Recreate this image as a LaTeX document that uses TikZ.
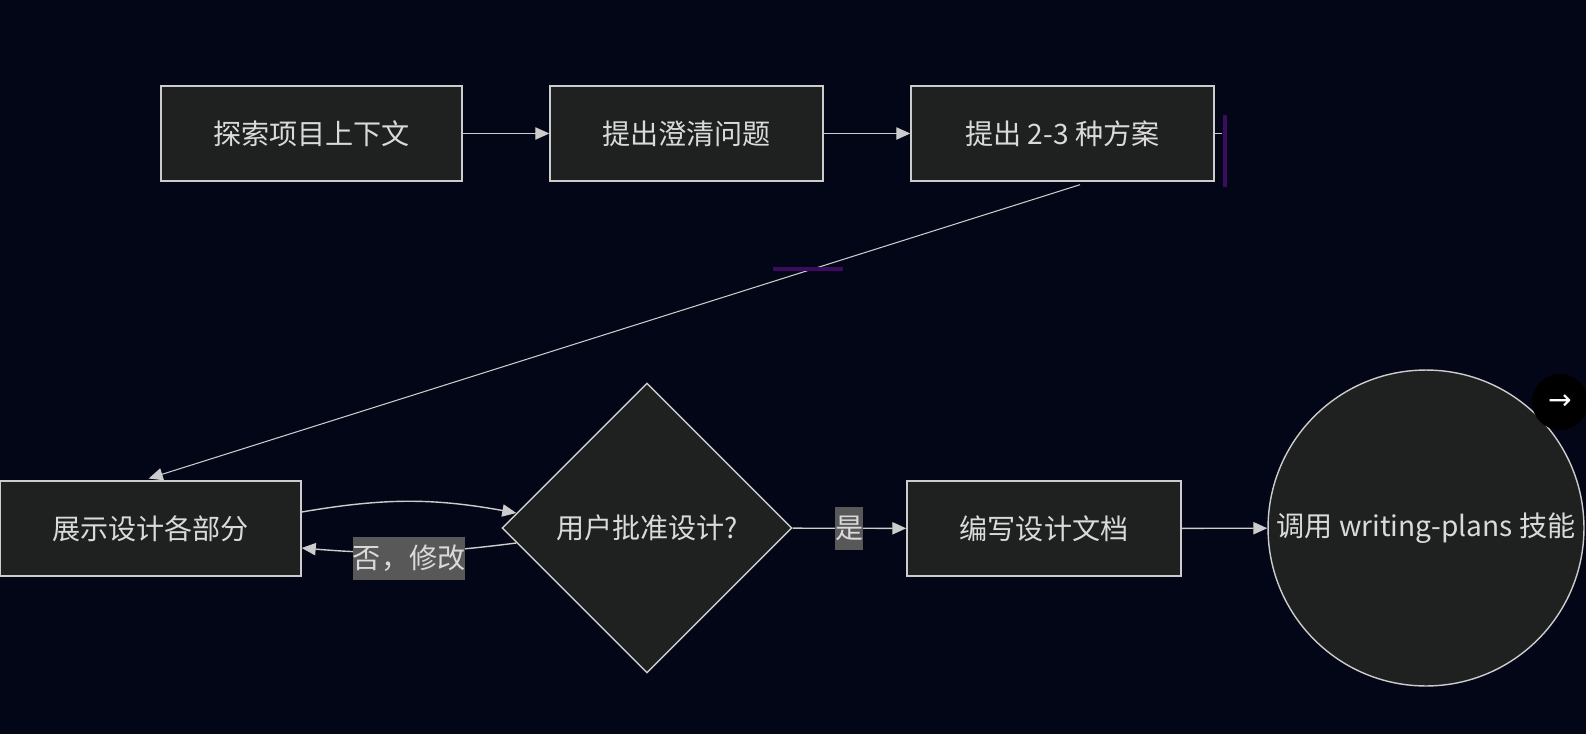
\documentclass[tikz,border=0pt]{standalone}
\usepackage{fontspec}
\setmainfont{Noto Sans CJK SC}
\newfontfamily\symfont{DejaVu Sans}
\usepackage{tikz}
\usetikzlibrary{arrows.meta, shapes, calc}

\definecolor{bg}{HTML}{020617}
\definecolor{nodefill}{HTML}{1F2020}
\definecolor{linecol}{HTML}{CCCCCC}
\definecolor{txtcol}{HTML}{DADADA}
\definecolor{lblfill}{HTML}{585858}
\definecolor{glow}{HTML}{3A0B5E}

\begin{document}
\begin{tikzpicture}[x=0.02cm, y=-0.02cm, ->, >={Triangle[length=8pt, width=7pt]}, line width=0.8pt, color=linecol,
		font=\fontsize{16}{19}\selectfont,
		box/.style={rectangle, draw=linecol, fill=nodefill, text=txtcol, minimum height=1.9cm, inner sep=0pt},
		decision/.style={diamond, draw=linecol, fill=nodefill, text=txtcol, aspect=1, minimum width=5.8cm, minimum height=5.8cm, inner sep=0pt},
		terminal/.style={circle, draw=linecol, fill=nodefill, text=txtcol, minimum size=6.32cm, inner sep=0pt},
		lbl/.style={fill=lblfill, text=txtcol, inner sep=0pt, minimum height=0.86cm}]
		\fill[bg, -] (0, 0) rectangle (1586, 734);
		\useasboundingbox (0, 0) rectangle (1586, 734);
		
		\node[box, minimum width=6.02cm] (explore) at (311.5, 133.5) {探索项目上下文};
		\node[box, minimum width=5.46cm] (clarify) at (686.5, 133.5) {提出澄清问题};
		\node[box, minimum width=6.06cm] (approach) at (1062.5, 133.5) {提出 2-3 种方案};
		\node[box, minimum width=6.02cm] (present) at (150.5, 528.5) {展示设计各部分};
		\node[decision] (approve) at (647, 528) {用户批准设计?};
		\node[box, minimum width=5.48cm] (doc) at (1044, 528.5) {编写设计文档};
		\node[terminal] (skill) at (1426, 528) {调用 writing-plans 技能};
		\node[circle, fill=black, minimum size=1.12cm, inner sep=0pt, text=white] (next) at (1560, 402) {\symfont →};
		
		\path (explore) edge (clarify)
			(clarify) edge (approach)
			([xshift=0.35cm, yshift=-0.06cm]approach.south) edge[line width=0.6pt, shorten >=0.12cm] ([xshift=-0.15cm]present.north)
			([yshift=0.33cm]present.east) edge[bend left=10] ([shift={(0.3cm, 0.3cm)}]approve.west)
			([shift={(0.3cm, -0.3cm)}]approve.west) edge[bend left=6] node[lbl, yshift=-0.12cm] {否，修改} ([yshift=-0.39cm]present.east)
			(approve) edge node[lbl] {是} (doc)
			(doc) edge (skill);
		
		% stray marks
		\draw[-] (approach.east) -- ++(7, 0);
		\draw[glow, line width=2pt, -] (1225, 115) -- (1225, 187);
		\draw[glow, line width=2pt, -] (773, 269) -- (843, 269);
	\end{tikzpicture}
\end{document}
